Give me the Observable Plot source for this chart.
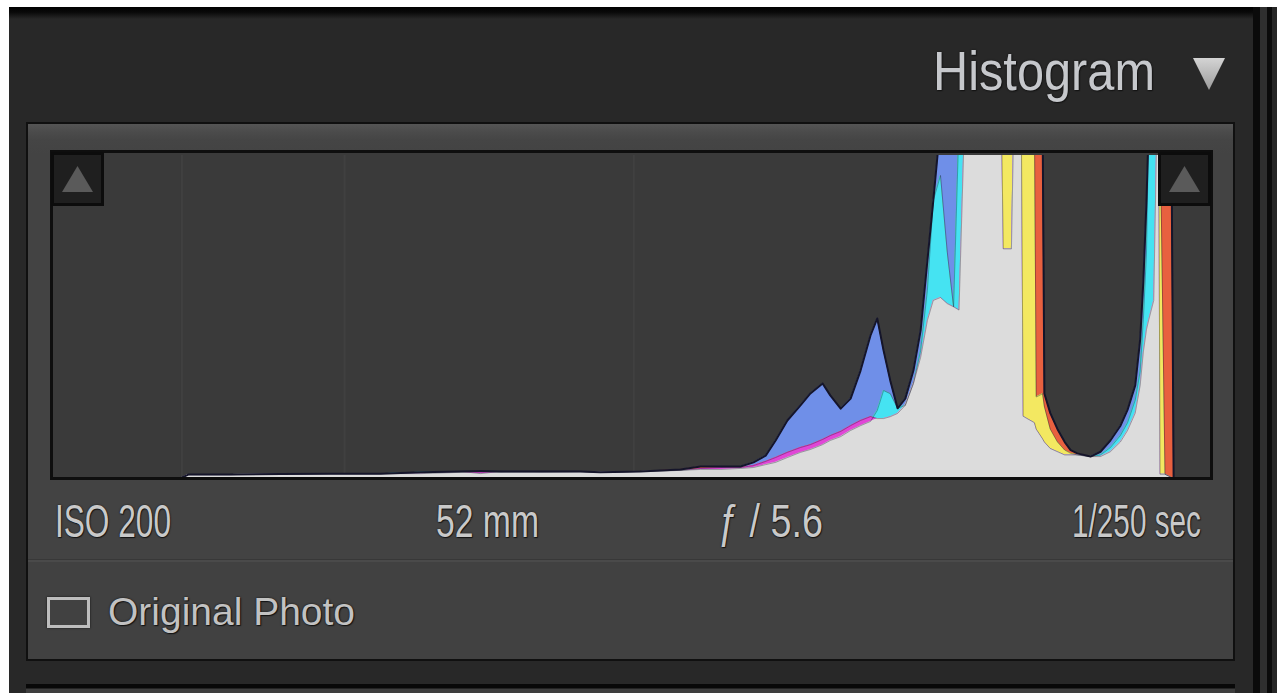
<!DOCTYPE html>
<html>
<head>
<meta charset="utf-8">
<script src="https://cdn.jsdelivr.net/npm/d3@7"></script>
<script src="https://cdn.jsdelivr.net/npm/@observablehq/plot@0.6"></script>
<style>
  html, body { margin: 0; padding: 0; }
  body { width: 1277px; height: 693px; background: #282828; position: relative; overflow: hidden; font-family: "Liberation Sans", Arial, sans-serif; }
  .abs { position: absolute; }
  .lbl { position: absolute; white-space: nowrap; line-height: 1; transform-origin: 0 0; text-shadow: 0 0 2px #111, 1px 1px 1px #151515; }
</style>
</head>
<body>
<script>
// ---------- data ----------
// tone levels (0 = black, 255 = white)
const levels = [28, 29.4, 38.7, 49.8, 60.9, 72.0, 80.8, 89.6, 94.1, 98.5, 107.3, 116.2, 120.6, 129.5, 138.3, 142.8,
  147.2, 151.6, 154.5, 157.2, 159.4, 162.0, 164.9, 167.1, 169.8, 171.5, 173.8, 176.0, 178.2, 180.4, 181.9, 183.3,
  184.8, 186.4, 188.1, 189.9, 191.5, 193.0, 194.3, 195.9, 197.4, 198.8, 200.0, 201.2, 209.4, 209.8, 211.6, 212.1,
  213.8, 214.2, 216.7, 217.1, 218.5, 218.9, 220.2, 221.8, 223.4, 224.7, 226.2, 229.1, 231.3, 233.5, 235.7, 237.3,
  239.0, 240.1, 240.8, 241.5, 242.0, 243.1, 243.8, 244.2, 244.5, 245.6, 247.0, 247.5];
// channel counts, % of histogram height (values above 100 are clipped at the top)
const red = [0, 0.9, 0.9, 1.1, 1.2, 1.2, 1.2, 1.6, 2.0, 1.6, 1.9, 1.9, 1.6, 1.9, 2.5, 3.4,
  3.4, 3.1, 3.7, 5.0, 6.2, 7.8, 9.3, 10.2, 11.8, 13.0, 14.3, 16.1, 17.7, 18.9, 18.3, 18.3,
  18.9, 19.9, 22.4, 29.2, 37.3, 48.8, 55.0, 55.9, 54.0, 53, 52, 110, 110, 110, 110, 110,
  110, 110, 110, 110, 110, 26, 20, 15, 11, 8.5, 7.5, 6.5, 6.5, 8, 11, 14.6,
  20, 28.6, 39, 46, 49, 55, 110, 110, 110, 110, 110, 0];
const green = [0, 0.9, 0.9, 1.1, 1.2, 1.2, 1.6, 1.9, 1.2, 1.9, 1.9, 1.9, 1.6, 1.9, 2.2, 2.5,
  2.5, 2.8, 3.1, 4.0, 4.7, 6.2, 7.8, 8.7, 10.2, 11.5, 12.7, 14.6, 16.1, 17.4, 20.8, 27,
  26, 21.5, 22.4, 29.2, 39.4, 58.1, 86.0, 93.8, 70, 53, 110, 110, 110, 110, 110, 110,
  110, 110, 110, 25, 26, 22, 15, 11, 8.5, 7.5, 7, 6.5, 7, 9.3, 13, 17,
  24, 33, 49, 70, 110, 110, 110, 110, 110, 1, 0, 0];
const blue = [0, 0.9, 0.9, 1.1, 1.2, 1.2, 1.6, 1.9, 1.9, 1.9, 1.6, 1.8, 1.6, 1.9, 2.2, 2.8,
  3.1, 3.4, 4.7, 6.8, 11.5, 17.7, 22.4, 26.1, 29.2, 25.5, 21.4, 24.5, 33.2, 44.1, 49.4, 39.4,
  30, 21.5, 24.5, 33.2, 45.7, 67.4, 86.0, 110, 110, 110, 110, 110, 110, 71, 71, 110,
  110, 19, 17, 15, 12, 11, 9, 8, 7, 7, 7, 6.5, 8, 11.5, 16, 21,
  28.6, 43, 61, 86, 110, 110, 110, 110, 1, 1, 0, 0];
// faint tonal-zone dividers
const zoneEdges = [28, 64, 128];
// texts
const panelTitle = "Histogram";
const exifLabels = ["ISO 200", "52 mm", "ƒ / 5.6", "1/250 sec"];
const checkboxLabel = "Original Photo";

// ---------- page chrome ----------
function box(css) {
  const d = document.createElement("div");
  d.className = "abs";
  Object.assign(d.style, css);
  document.body.appendChild(d);
  return d;
}
// outer edges of the screenshot
box({left: "0px", top: "0px", width: "1277px", height: "7px", background: "#ffffff"});
box({left: "0px", top: "7px", width: "1277px", height: "12px", background: "linear-gradient(#000 0%, #0a0a0a 45%, #282828 100%)"});
box({left: "0px", top: "0px", width: "9px", height: "693px", background: "#ffffff"});
box({left: "1253px", top: "7px", width: "7px", height: "686px", background: "#0b0b0b"});
box({left: "1260px", top: "7px", width: "7px", height: "686px", background: "#2f2f2f"});
box({left: "1267px", top: "7px", width: "5px", height: "686px", background: "#0b0b0b"});
box({left: "1272px", top: "7px", width: "5px", height: "686px", background: "#262626"});
// next panel peeking at the bottom
box({left: "26px", top: "684px", width: "1209px", height: "9px", background: "linear-gradient(#080808 0%, #080808 40%, #3e3e3e 60%)"});

// main panel
box({left: "26px", top: "122px", width: "1209px", height: "539px", boxSizing: "border-box",
  border: "2px solid #101010",
  background: "linear-gradient(#555 0px, #4b4b4b 8px, #454545 16px, #434343 30px, #434343 100%)"});
// separator above checkbox row
box({left: "28px", top: "559px", width: "1205px", height: "1px", background: "#383838"});
box({left: "28px", top: "560px", width: "1205px", height: "2px", background: "#4a4a4a"});
box({left: "28px", top: "562px", width: "1205px", height: "97px", background: "#414141"});

// histogram frame
box({left: "50px", top: "150px", width: "1163px", height: "330px", boxSizing: "border-box",
  border: "3px solid #0e0e0e", background: "#3a3a3a"});

// ---------- the chart ----------
const rows = levels.map((level, i) => ({level, r: red[i], g: green[i], b: blue[i]}));
const C = {
  r: "#e8603f", g: "#5fd35f", b: "#6f8fe8",
  rg: "#f3e861", gb: "#45e3f2", rb: "#e046d6", rgb: "#dcdcdc", edge: "#15152a"
};
const area = (y, fill) => Plot.areaY(rows, {x: "level", y, fill, curve: "linear", clip: true});
const chart = Plot.plot({
  width: 1157, height: 325,
  marginLeft: 2, marginRight: 3, marginTop: 2, marginBottom: 1,
  x: {domain: [0, 255], axis: null},
  y: {domain: [0, 100], axis: null},
  style: {background: "transparent", overflow: "hidden"},
  marks: [
    Plot.ruleX(zoneEdges, {stroke: "#404040", strokeWidth: 2}),
    area("b", C.b),
    area("r", C.r),
    area("g", C.g),
    area(d => Math.min(d.r, d.g), C.rg),
    area(d => Math.min(d.g, d.b), C.gb),
    area(d => Math.min(d.r, d.b), C.rb),
    area(d => Math.min(d.r, d.g, d.b), C.rgb),
    Plot.lineY(rows, {x: "level", y: "r", stroke: C.edge, strokeWidth: 1, strokeOpacity: 0.35, clip: true}),
    Plot.lineY(rows, {x: "level", y: "g", stroke: C.edge, strokeWidth: 1, strokeOpacity: 0.35, clip: true}),
    Plot.lineY(rows, {x: "level", y: "b", stroke: C.edge, strokeWidth: 1, strokeOpacity: 0.35, clip: true}),
    Plot.lineY(rows, {x: "level", y: d => Math.max(d.r, d.g, d.b), stroke: C.edge, strokeWidth: 2, clip: true})
  ]
});
chart.style.position = "absolute";
chart.style.left = "53px";
chart.style.top = "153px";
document.body.appendChild(chart);

// clipping indicators (drawn over the chart)
function clipBox(left, top) {
  box({left: left + "px", top: top + "px", width: "53px", height: "54px", boxSizing: "border-box",
    border: "3px solid #0c0c0c", background: "#1f1f1f", zIndex: 5});
  box({left: (left + 11) + "px", top: (top + 14) + "px", width: "31px", height: "26px",
    background: "#5a5a5a", clipPath: "polygon(50% 0, 100% 100%, 0 100%)", zIndex: 6});
}
clipBox(51, 152);
clipBox(1158, 152);

// ---------- text ----------
function label(text, o) {
  const F = o.cap / 0.716;
  const d = document.createElement("div");
  d.className = "lbl";
  d.textContent = text;
  d.style.fontFamily = o.family || '"Liberation Sans", Arial, sans-serif';
  d.style.fontSize = F + "px";
  d.style.color = o.color || "#c8c8c8";
  d.style.left = o.left + "px";
  d.style.top = (o.baseline - 0.8465 * F) + "px";
  d.style.zIndex = 10;
  document.body.appendChild(d);
  const w = d.getBoundingClientRect().width;
  if (w > 0 && o.width) d.style.transform = `scaleX(${o.width / w})`;
  return d;
}
const narrow = '"Liberation Sans Narrow", "Liberation Sans", Arial, sans-serif';
label(panelTitle, {left: 933, baseline: 90, cap: 40, width: 222, color: "#c6c8cc"});
const exifPos = [
  {left: 55, width: 116},
  {left: 436, width: 103},
  {left: 718, width: 105},
  {left: 1072, width: 129}
];
exifLabels.forEach((t, i) => label(t, {left: exifPos[i].left, width: exifPos[i].width, baseline: 537, cap: 33, family: narrow, color: "#c9c9c9"}));
label(checkboxLabel, {left: 108, baseline: 625, cap: 28, width: 247, color: "#c2c2c2"});

// disclosure triangle and checkbox
box({left: "1193px", top: "58px", width: "32px", height: "32px",
  background: "linear-gradient(#d4d4d4, #9c9c9c)", clipPath: "polygon(0 0, 100% 0, 50% 100%)"});
box({left: "47px", top: "597px", width: "43px", height: "31px", boxSizing: "border-box",
  border: "3px solid #bdbdbd", boxShadow: "0 0 2px #111"});
</script>
</body>
</html>
